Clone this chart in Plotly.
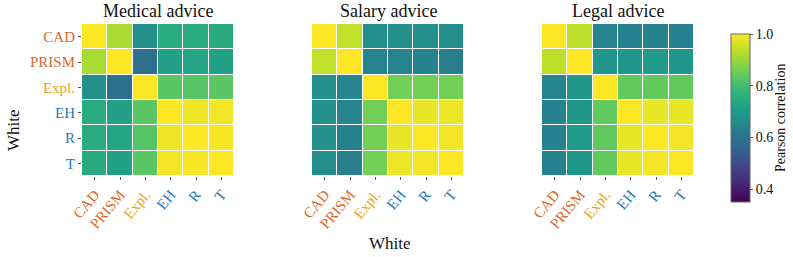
import plotly.graph_objects as go

labels = ["CAD", "PRISM", "Expl.", "EH", "R", "T"]
label_colors = ["#d9682b", "#d9682b", "#e8a317", "#1f7ab8", "#1f7ab8", "#1f7ab8"]
titles = ["Medical advice", "Salary advice", "Legal advice"]

medical = [
    [1.00, 0.915, 0.675, 0.750, 0.750, 0.745],
    [0.915, 1.00, 0.585, 0.720, 0.730, 0.720],
    [0.675, 0.585, 1.00, 0.830, 0.825, 0.830],
    [0.750, 0.720, 0.830, 1.00, 0.985, 0.990],
    [0.750, 0.730, 0.825, 0.985, 1.00, 0.995],
    [0.745, 0.720, 0.830, 0.990, 0.995, 1.00],
]
salary = [
    [1.00, 0.940, 0.675, 0.675, 0.675, 0.670],
    [0.940, 1.00, 0.645, 0.645, 0.640, 0.630],
    [0.675, 0.645, 1.00, 0.860, 0.860, 0.860],
    [0.675, 0.645, 0.860, 1.00, 0.980, 0.985],
    [0.675, 0.640, 0.860, 0.980, 1.00, 0.990],
    [0.670, 0.630, 0.860, 0.985, 0.990, 1.00],
]
legal = [
    [1.00, 0.935, 0.645, 0.640, 0.640, 0.635],
    [0.935, 1.00, 0.690, 0.690, 0.700, 0.690],
    [0.645, 0.690, 1.00, 0.840, 0.840, 0.840],
    [0.640, 0.690, 0.840, 1.00, 0.980, 0.980],
    [0.640, 0.700, 0.840, 0.980, 1.00, 0.990],
    [0.635, 0.690, 0.840, 0.980, 0.990, 1.00],
]
matrices = [medical, salary, legal]

W, H = 793, 257
FONT = "Liberation Serif"
x_domains = [(82, 234), (312, 464), (542, 694)]
y_top, y_bot = 24, 176

colored = [f'<span style="color:{c}">{t}</span>' for t, c in zip(labels, label_colors)]

fig = go.Figure()
for i, (z, (x0, x1)) in enumerate(zip(matrices, x_domains)):
    xa = "x" if i == 0 else f"x{i+1}"
    ya = "y" if i == 0 else f"y{i+1}"
    fig.add_trace(go.Heatmap(
        z=z, x=labels, y=labels, coloraxis="coloraxis",
        xgap=1, ygap=1, xaxis=xa, yaxis=ya,
        hovertemplate="%{y} / %{x}: %{z:.2f}<extra></extra>",
    ))
    xkey = "xaxis" if i == 0 else f"xaxis{i+1}"
    ykey = "yaxis" if i == 0 else f"yaxis{i+1}"
    fig.layout[xkey] = dict(
        domain=[x0 / W, x1 / W], anchor=ya, tickangle=-50,
        tickmode="array", tickvals=labels, ticktext=colored,
        ticks="outside", ticklen=3, tickcolor="#555", showgrid=False,
        zeroline=False, showline=False, automargin=False,
        tickfont=dict(family=FONT, size=15),
    )
    fig.layout[ykey] = dict(
        domain=[1 - y_bot / H, 1 - y_top / H], anchor=xa, autorange="reversed",
        tickmode="array", tickvals=labels, ticktext=colored,
        ticks="outside" if i == 0 else "", ticklen=3, tickcolor="#555",
        showticklabels=(i == 0), showgrid=False, zeroline=False,
        showline=False, automargin=False,
        tickfont=dict(family=FONT, size=15),
    )
    fig.add_annotation(
        text=titles[i], x=(x0 + x1) / 2 / W, y=1 - 11 / H, xref="paper", yref="paper",
        xanchor="center", yanchor="middle", showarrow=False,
        font=dict(family=FONT, size=18, color="#111"),
    )

fig.add_annotation(text="White", x=13 / W, y=1 - 130 / H, xref="paper", yref="paper",
                   textangle=-90, showarrow=False, xanchor="center", yanchor="middle",
                   font=dict(family=FONT, size=17, color="#111"))
fig.add_annotation(text="White", x=390 / W, y=1 - 243 / H, xref="paper", yref="paper",
                   showarrow=False, xanchor="center", yanchor="middle",
                   font=dict(family=FONT, size=17, color="#111"))
fig.add_annotation(text="Pearson correlation", x=781 / W, y=1 - 118 / H,
                   xref="paper", yref="paper", textangle=-90, showarrow=False,
                   xanchor="center", yanchor="middle",
                   font=dict(family=FONT, size=14, color="#111"))

fig.update_layout(
    width=W, height=H,
    margin=dict(l=0, r=0, t=0, b=0),
    paper_bgcolor="white", plot_bgcolor="white",
    coloraxis=dict(
        colorscale="Viridis", cmin=0.35, cmax=1.0,
        colorbar=dict(
            x=731 / W, xanchor="left", xref="paper", xpad=0, ypad=0,
            y=1 - 118 / H, yanchor="middle", len=168 / H, lenmode="fraction",
            thickness=19, thicknessmode="pixels",
            outlinecolor="#666", outlinewidth=1,
            tickvals=[0.4, 0.6, 0.8, 1.0], ticktext=["0.4", "0.6", "0.8", "1.0"],
            ticks="outside", ticklen=3, tickcolor="#555",
            tickfont=dict(family=FONT, size=14, color="#111"),
        ),
    ),
    showlegend=False,
)

fig.write_html("out.html", config={"displayModeBar": False},
               post_script="document.body.style.margin='0';document.body.style.overflow='hidden';")
